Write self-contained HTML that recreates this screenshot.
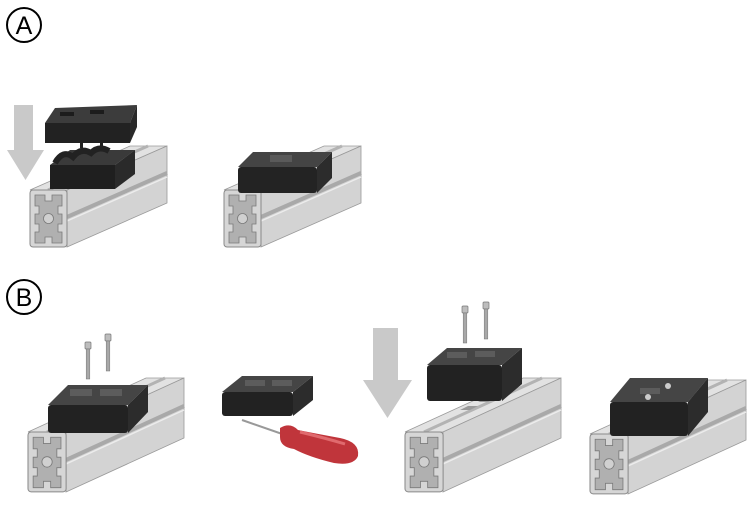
<!DOCTYPE html>
<html><head><style>html,body{margin:0;padding:0;background:#fff}svg{display:block}</style></head><body>
<svg width="750" height="522" viewBox="0 0 750 522" xmlns="http://www.w3.org/2000/svg">
<defs>
<g id="face">
  <rect x="0" y="0" width="37" height="57" rx="3" fill="#d6d6d6" stroke="#8a8a8a" stroke-width="1"/>
  <path d="M5,5 h10 v6 h7 v-6 h10 v11 h-4 v8 h4 v10 h-4 v8 h4 v11 h-10 v-6 h-7 v6 h-10 v-11 h4 v-8 h-4 v-10 h4 v-8 h-4Z" fill="#b0b0b0" stroke="#7a7a7a" stroke-width="0.8"/>
  <circle cx="18.5" cy="28.5" r="5" fill="#d0d0d0" stroke="#7a7a7a" stroke-width="0.8"/>
</g>
<g id="prof">
  <path d="M0,0 L100,-44 L137,-44 L37,0Z" fill="#e2e2e2" stroke="#9a9a9a" stroke-width="0.8"/>
  <path d="M37,0 L137,-44 L137,13 L37,57Z" fill="#d3d3d3" stroke="#9a9a9a" stroke-width="0.8"/>
  <path d="M37,27 L137,-17" stroke="#a9a9a9" stroke-width="4"/>
  <path d="M37,31 L137,-13" stroke="#ececec" stroke-width="1.5"/>
  <path d="M18,0 L118,-44" stroke="#b3b3b3" stroke-width="3"/>
  <use href="#face"/>
</g>
<g id="profB">
  <path d="M0,0 L118,-54 L156,-54 L38,0Z" fill="#e2e2e2" stroke="#9a9a9a" stroke-width="0.8"/>
  <path d="M38,0 L156,-54 L156,6 L38,60Z" fill="#d3d3d3" stroke="#9a9a9a" stroke-width="0.8"/>
  <path d="M38,28 L156,-26" stroke="#a9a9a9" stroke-width="4"/>
  <path d="M38,32 L156,-22" stroke="#ececec" stroke-width="1.5"/>
  <path d="M19,0 L137,-54" stroke="#b3b3b3" stroke-width="3"/>
  <use href="#face" transform="scale(1.03,1.05)"/>
</g>
<g id="screw">
  <rect x="-3" y="0" width="6" height="7" rx="1" fill="#bdbdbd" stroke="#777" stroke-width="0.7"/>
  <rect x="-1.8" y="7" width="3.6" height="30" fill="#a8a8a8" stroke="#777" stroke-width="0.5"/>
</g>
</defs>

<circle cx="24" cy="25" r="17" fill="none" stroke="#000" stroke-width="2"/>
<text x="24" y="34" font-family="Liberation Sans, sans-serif" font-size="25" text-anchor="middle">A</text>
<circle cx="24" cy="297" r="17" fill="none" stroke="#000" stroke-width="2"/>
<text x="24" y="306" font-family="Liberation Sans, sans-serif" font-size="25" text-anchor="middle">B</text>

<!-- A left -->
<path d="M14,105 h19 v45 h11 l-18.5,30 l-18.5,-30 h7Z" fill="#c9c9c9"/>
<use href="#prof" x="30" y="190"/>
<path d="M50,165 L70,150 L135,150 L115,165Z" fill="#3a3a3a"/>
<path d="M55,163 q8,-14 18,-6 q8,-10 18,-4 q8,-8 18,-2" fill="none" stroke="#222" stroke-width="6"/>
<rect x="50" y="165" width="65" height="24" fill="#1f1f1f"/>
<path d="M115,165 L135,150 L135,174 L115,189Z" fill="#2a2a2a"/>
<path d="M45,123 L55,108 L137,105 L130,123Z" fill="#3c3c3c"/>
<rect x="60" y="112" width="14" height="4" fill="#1c1c1c"/><rect x="90" y="110" width="14" height="4" fill="#1c1c1c"/>
<rect x="45" y="123" width="85" height="20" fill="#222"/>
<path d="M130,123 L137,105 L137,127 L130,143Z" fill="#2a2a2a"/>
<rect x="80" y="143" width="3" height="5" fill="#222"/><rect x="100" y="143" width="3" height="5" fill="#222"/>

<!-- A right -->
<use href="#prof" x="224" y="190"/>
<path d="M238,167 L253,152 L332,152 L317,167Z" fill="#444"/>
<rect x="270" y="155" width="22" height="7" fill="#5a5a5a"/>
<rect x="238" y="167" width="79" height="26" rx="3" fill="#232323"/>
<path d="M317,167 L332,152 L332,178 L317,193Z" fill="#2c2c2c"/>

<!-- B1 -->
<use href="#profB" x="28" y="432"/>
<use href="#screw" x="88" y="342"/>
<use href="#screw" x="108" y="334"/>
<path d="M48,405 L68,385 L148,385 L128,405Z" fill="#454545"/>
<rect x="70" y="389" width="22" height="7" fill="#5c5c5c"/><rect x="100" y="389" width="22" height="7" fill="#5c5c5c"/>
<rect x="48" y="405" width="80" height="28" rx="3" fill="#222"/>
<path d="M128,405 L148,385 L148,412 L128,433Z" fill="#2c2c2c"/>

<!-- B2 screwdriver -->
<path d="M222,392 L242,376 L313,376 L293,392Z" fill="#454545"/>
<rect x="245" y="380" width="20" height="6" fill="#5c5c5c"/><rect x="272" y="380" width="20" height="6" fill="#5c5c5c"/>
<rect x="222" y="392" width="71" height="24" rx="3" fill="#222"/>
<path d="M293,392 L313,376 L313,400 L293,416Z" fill="#2c2c2c"/>
<line x1="242" y1="420" x2="288" y2="436" stroke="#999" stroke-width="2"/>
<path d="M280,428 q10,-6 18,2 q20,4 42,8 q20,4 18,18 q-4,10 -24,7 q-25,-6 -40,-14 q-14,-2 -14,-12Z" fill="#c0353b"/>
<path d="M300,432 q25,6 45,12" stroke="#e06a6e" stroke-width="3" fill="none"/>

<!-- B3 -->
<path d="M373,328 h25 v52 h14 l-24.5,38 l-24.5,-38 h10Z" fill="#c9c9c9"/>
<use href="#profB" x="405" y="432"/>
<path d="M460,410 l8,-4 h10 l-8,4Z" fill="#999"/><path d="M478,402 l8,-4 h10 l-8,4Z" fill="#999"/>
<use href="#screw" x="465" y="306"/>
<use href="#screw" x="486" y="302"/>
<path d="M427,365 L447,348 L522,348 L502,365Z" fill="#454545"/>
<rect x="447" y="352" width="20" height="6" fill="#5c5c5c"/><rect x="475" y="351" width="20" height="6" fill="#5c5c5c"/>
<rect x="427" y="365" width="75" height="36" rx="3" fill="#222"/>
<path d="M502,365 L522,348 L522,384 L502,401Z" fill="#2c2c2c"/>

<!-- B4 -->
<use href="#profB" x="590" y="434"/>
<path d="M610,402 L630,378 L708,378 L688,402Z" fill="#454545"/>
<circle cx="648" cy="397" r="3" fill="#ccc"/><circle cx="668" cy="386" r="3" fill="#ccc"/>
<rect x="640" y="388" width="20" height="6" fill="#5c5c5c"/>
<rect x="610" y="402" width="78" height="34" rx="3" fill="#222"/>
<path d="M688,402 L708,378 L708,412 L688,436Z" fill="#2c2c2c"/>
</svg>
</body></html>
